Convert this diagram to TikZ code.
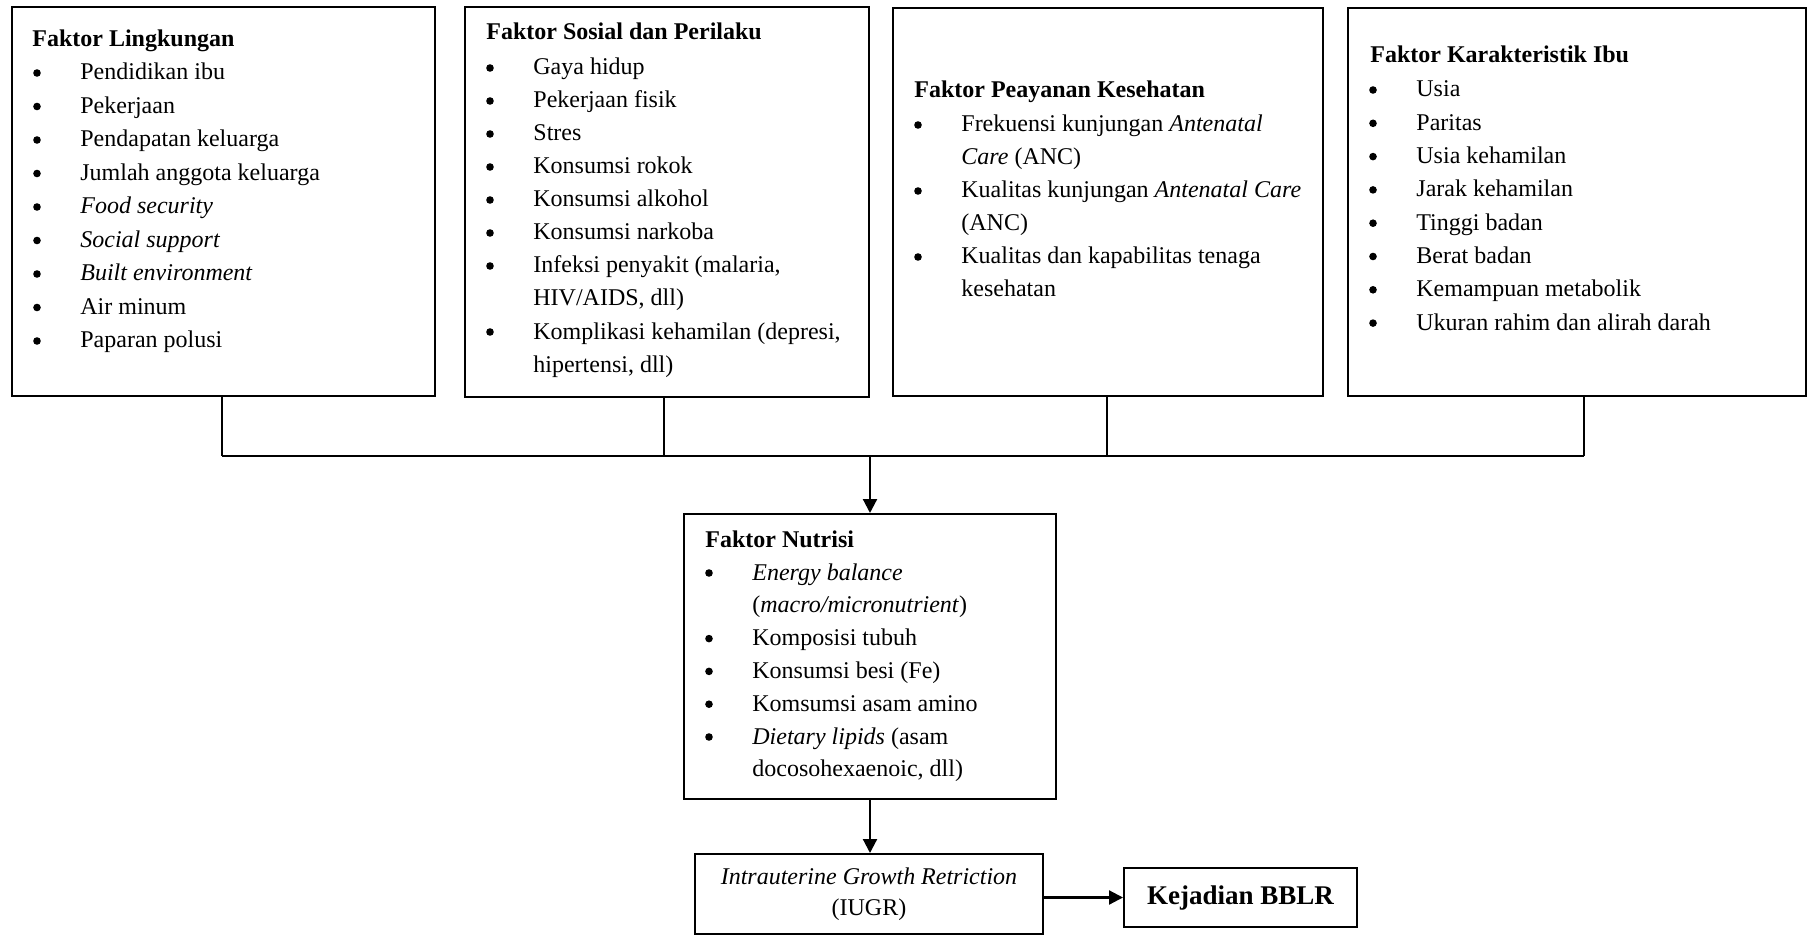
\documentclass[tikz,border=0pt]{standalone}
\usepackage{fontspec}
\setmainfont{Liberation Serif}
\usetikzlibrary{fit,arrows.meta}
\tikzset{
  box/.style={draw, line width=1pt, inner sep=0pt, rectangle},
  ttl/.style={anchor=base west, inner sep=0pt, font=\fontsize{12pt}{16.75pt}\selectfont\bfseries},
  itm/.style={anchor=base west, inner sep=0pt, font=\fontsize{12pt}{16.75pt}\selectfont},
  bul/.style={circle, fill, inner sep=0pt, minimum size=3.8pt},
  conn/.style={line width=0.9pt},
  arr/.style={line width=1.1pt, -{Triangle[length=7pt,width=7pt]}},
}
\newcommand\LineB[4]{%
  \node[bul] (#1b) at (#2+25,#3-7) {};
  \node[itm] (#1) at (#2+68,#3) {#4};}
\newcommand\LineC[4]{\node[itm] (#1) at (#2+68,#3) {#4};}
\begin{document}
\begin{tikzpicture}[x=0.5pt,y=-0.5pt]
\useasboundingbox (0,0) rectangle (1810,936);
% boxes
\node[box, fit={(12,7) (435,396)}] (b1) {};
\node[box, fit={(465,7) (869,397)}] (b2) {};
\node[box, fit={(893,8) (1323,396)}] (b3) {};
\node[box, fit={(1348,8) (1806,396)}] (b4) {};
\node[box, fit={(684,514) (1056,799)}] (nut) {};
\node[box, minimum width=174pt, minimum height=40pt, align=center,
      font=\fontsize{12pt}{15.5pt}\selectfont] (iugr) at (869,894)
      {\textit{Intrauterine Growth Retriction}\\(IUGR)};
\node[box, minimum width=116.5pt, minimum height=29.5pt,
      font=\fontsize{13.5pt}{16pt}\selectfont\bfseries] (kej) at (1240.5,897.5) {Kejadian BBLR};
% box 1
\node[ttl] (t1) at (32,47) {Faktor Lingkungan};
\LineB{a1}{12}{80}{Pendidikan ibu}
\LineB{a2}{12}{113.5}{Pekerjaan}
\LineB{a3}{12}{147}{Pendapatan keluarga}
\LineB{a4}{12}{180.5}{Jumlah anggota keluarga}
\LineB{a5}{12}{214}{\textit{Food security}}
\LineB{a6}{12}{247.5}{\textit{Social support}}
\LineB{a7}{12}{281}{\textit{Built environment}}
\LineB{a8}{12}{314.5}{Air minum}
\LineB{a9}{12}{348}{Paparan polusi}
% box 2
\node[ttl] (t2) at (486,40) {Faktor Sosial dan Perilaku};
\LineB{s1}{465}{75}{Gaya hidup}
\LineB{s2}{465}{108}{Pekerjaan fisik}
\LineB{s3}{465}{141}{Stres}
\LineB{s4}{465}{174}{Konsumsi rokok}
\LineB{s5}{465}{207}{Konsumsi alkohol}
\LineB{s6}{465}{240}{Konsumsi narkoba}
\LineB{s7}{465}{273}{Infeksi penyakit (malaria,}
\LineC{s8}{465}{306}{HIV/AIDS, dll)}
\LineB{s9}{465}{339}{Komplikasi kehamilan (depresi,}
\LineC{s10}{465}{372}{hipertensi, dll)}
% box 3
\node[ttl] (t3) at (914,98) {Faktor Peayanan Kesehatan};
\LineB{p1}{893}{132}{Frekuensi kunjungan \textit{Antenatal}}
\LineC{p2}{893}{165}{\textit{Care} (ANC)}
\LineB{p3}{893}{198}{Kualitas kunjungan \textit{Antenatal Care}}
\LineC{p4}{893}{231}{(ANC)}
\LineB{p5}{893}{264}{Kualitas dan kapabilitas tenaga}
\LineC{p6}{893}{297}{kesehatan}
% box 4
\node[ttl] (t4) at (1370,63) {Faktor Karakteristik Ibu};
\LineB{k1}{1348}{97}{Usia}
\LineB{k2}{1348}{130.3}{Paritas}
\LineB{k3}{1348}{163.6}{Usia kehamilan}
\LineB{k4}{1348}{196.9}{Jarak kehamilan}
\LineB{k5}{1348}{230.2}{Tinggi badan}
\LineB{k6}{1348}{263.5}{Berat badan}
\LineB{k7}{1348}{296.8}{Kemampuan metabolik}
\LineB{k8}{1348}{330.1}{Ukuran rahim dan alirah darah}
% nutrisi
\node[ttl] (t5) at (705,547) {Faktor Nutrisi};
\LineB{n1}{684}{580}{\textit{Energy balance}}
\LineC{n2}{684}{612.8}{(\textit{macro/micronutrient})}
\LineB{n3}{684}{645.6}{Komposisi tubuh}
\LineB{n4}{684}{678.4}{Konsumsi besi (Fe)}
\LineB{n5}{684}{711.2}{Komsumsi asam amino}
\LineB{n6}{684}{744}{\textit{Dietary lipids} (asam}
\LineC{n7}{684}{776.8}{docosohexaenoic, dll)}
% connectors
\coordinate (j1) at (222,456);
\coordinate (j2) at (664,456);
\coordinate (j3) at (1107,456);
\coordinate (j4) at (1584,456);
\draw[conn] (b1.south -| j1) -- (j1);
\draw[conn] (b2.south -| j2) -- (j2);
\draw[conn] (b3.south -| j3) -- (j3);
\draw[conn] (b4.south -| j4) -- (j4);
\draw[conn] (j1) -- (j4);
\draw[arr] (nut.north |- j1) -- (nut.north);
\draw[arr] (nut.south) -- (nut.south |- iugr.north);
\draw[arr] (iugr.east |- kej.west) -- (kej.west);
\end{tikzpicture}
\end{document}
